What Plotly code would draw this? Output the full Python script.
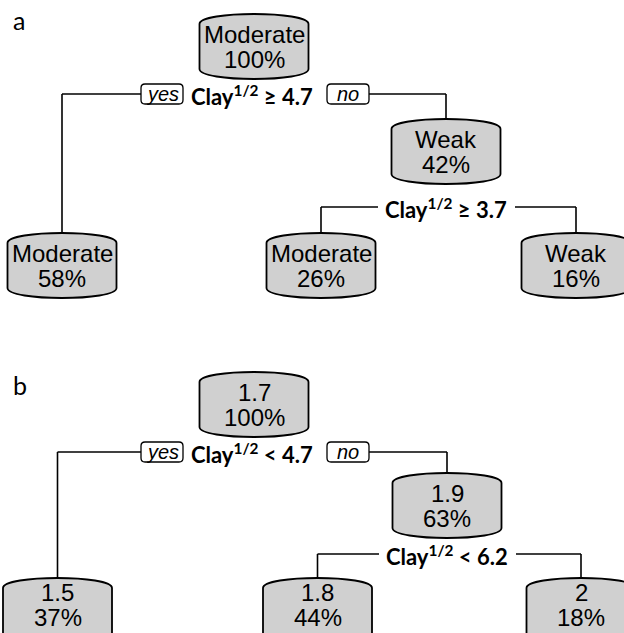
import plotly.graph_objects as go

# ---------------- data ----------------
panel_labels = ["a", "b"]

# panel a: classification tree
class_a = ["Moderate", "Weak", "Moderate", "Moderate", "Weak"]
pct_a = [100, 42, 58, 26, 16]
split_a = ["≥ 4.7", "≥ 3.7"]

# panel b: regression tree
value_b = ["1.7", "1.9", "1.5", "1.8", "2"]
pct_b = [100, 63, 37, 44, 18]
split_b = ["< 4.7", "< 6.2"]

split_var = "Clay"
split_pow = "1/2"

# ---------------- layout (pixel space) ----------------
W, H = 624, 633
NODE_W, NODE_H, BULGE = 109, 65, 10
FILL = "#D0D0D0"
LINE_W = 1.6

# node order: root, inner right, leaf left, leaf mid, leaf right
node_x = {"a": [254, 446, 62, 321, 576], "b": [254, 447, 57.5, 317.5, 581]}
node_top = {"a": [14, 119, 233, 233, 233], "b": [372, 473, 578, 578, 578]}
split_y = {"a": [94, 207], "b": [452, 554]}
panel_label_y = {"a": 20, "b": 385}

NODE_FONT = dict(family="Liberation Sans, Arial, sans-serif", size=24, color="black")
SPLIT_FONT = dict(family="Lato, sans-serif", size=22, color="black")
YN_FONT = dict(family="Liberation Sans, Arial, sans-serif", size=20, color="black")
PANEL_FONT = dict(family="Lato, sans-serif", size=25, color="black")

fig = go.Figure()
shapes = []
annotations = []


def node_path(cx, top):
    x0, x1 = cx - NODE_W / 2, cx + NODE_W / 2
    bot = top + NODE_H
    ya, yb = top + BULGE, bot - BULGE
    ct = ya - BULGE / 0.75
    cb = yb + BULGE / 0.75
    return (f"M {x0},{ya} C {x0},{ct} {x1},{ct} {x1},{ya} "
            f"L {x1},{yb} C {x1},{cb} {x0},{cb} {x0},{yb} Z")


def rrect_path(x0, x1, y0, y1, r=4):
    return (f"M {x0+r},{y0} L {x1-r},{y0} Q {x1},{y0} {x1},{y0+r} "
            f"L {x1},{y1-r} Q {x1},{y1} {x1-r},{y1} L {x0+r},{y1} "
            f"Q {x0},{y1} {x0},{y1-r} L {x0},{y0+r} Q {x0},{y0} {x0+r},{y0} Z")


def line(x0, y0, x1, y1):
    shapes.append(dict(type="line", xref="x", yref="y", x0=x0, y0=y0, x1=x1, y1=y1,
                       line=dict(color="black", width=LINE_W)))


def text(x, y, s, font, xanchor="center"):
    annotations.append(dict(x=x, y=y, xref="x", yref="y", text=s, showarrow=False,
                            font=font, xanchor=xanchor, yanchor="middle"))


for p in panel_labels:
    xs, tops, sy = node_x[p], node_top[p], split_y[p]
    if p == "a":
        line1 = class_a
        pct = pct_a
        ops = split_a
    else:
        line1 = value_b
        pct = pct_b
        ops = split_b

    # ---- split 1 (root) with yes / no boxes ----
    y1 = sy[0]
    yes_x0, yes_x1 = 141, 183
    no_x0, no_x1 = 327, 369
    line(xs[2], y1, yes_x0, y1)
    line(xs[2], y1, xs[2], tops[2])
    line(no_x1, y1, xs[1], y1)
    line(xs[1], y1, xs[1], tops[1])
    shapes.append(dict(type="path", xref="x", yref="y", path=rrect_path(yes_x0, yes_x1, y1 - 10, y1 + 10),
                       line=dict(color="black", width=1.3), fillcolor="white"))
    shapes.append(dict(type="path", xref="x", yref="y", path=rrect_path(no_x0, no_x1, y1 - 10, y1 + 10),
                       line=dict(color="black", width=1.3), fillcolor="white"))
    text((yes_x0 + yes_x1) / 2, y1, "<i>yes</i>", YN_FONT)
    text((no_x0 + no_x1) / 2, y1, "<i>no</i>", YN_FONT)
    text(252, y1 + 1, f"<b>{split_var}<sup>{split_pow}</sup> {ops[0]}</b>", SPLIT_FONT)

    # ---- split 2 (inner node) ----
    y2 = sy[1]
    gap_l, gap_r = xs[1] - 68, xs[1] + 69
    line(xs[3], y2, gap_l, y2)
    line(xs[3], y2, xs[3], tops[3])
    line(gap_r, y2, xs[4], y2)
    line(xs[4], y2, xs[4], tops[4])
    text(xs[1], y2 + 1, f"<b>{split_var}<sup>{split_pow}</sup> {ops[1]}</b>", SPLIT_FONT)

    # ---- nodes ----
    for i in range(5):
        shapes.append(dict(type="path", xref="x", yref="y", path=node_path(xs[i], tops[i]),
                           line=dict(color="black", width=1.8), fillcolor=FILL))
        mid = tops[i] + NODE_H / 2
        l2 = min(mid + 12.5, H - 16)
        l1 = l2 - 24.5
        text(xs[i], l1, line1[i], NODE_FONT)
        text(xs[i], l2, f"{pct[i]}%", NODE_FONT)

    text(11, panel_label_y[p], p, PANEL_FONT, xanchor="left")

fig.update_layout(
    width=W, height=H,
    margin=dict(l=0, r=0, t=0, b=0),
    paper_bgcolor="white", plot_bgcolor="white",
    xaxis=dict(range=[0, W], visible=False, fixedrange=True),
    yaxis=dict(range=[H, 0], visible=False, fixedrange=True),
    shapes=shapes, annotations=annotations,
    showlegend=False,
)
fig.write_html("out.html")
